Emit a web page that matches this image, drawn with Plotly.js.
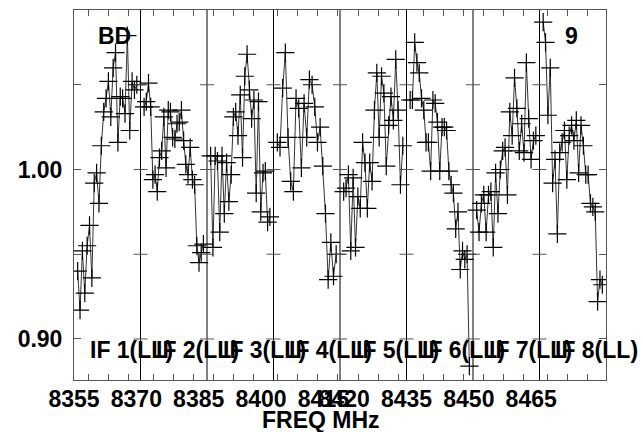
<!DOCTYPE html>
<html>
<head>
<meta charset="utf-8">
<script src="https://cdn.plot.ly/plotly-3.0.1.min.js"></script>
<style>html,body{margin:0;padding:0;background:#fff;}#chart{width:643px;height:432px;}</style>
</head>
<body>
<div id="chart"></div>
<script>
// Amplitude per channel for each IF
const if1 = [0.940, 0.917, 0.952, 0.927, 0.955, 0.967, 0.936, 0.992, 0.998, 0.980, 1.014, 1.034, 1.042, 1.052, 1.031, 1.060, 1.069, 1.016, 1.043, 1.042, 1.033, 1.079, 1.023, 1.052, 1.047, 1.050];
const if2 = [1.037, 1.040, 1.051, 1.037, 0.994, 0.997, 0.987, 1.007, 1.011, 1.031, 1.001, 1.035, 1.034, 1.019, 1.018, 1.027, 1.028, 1.035, 1.017, 1.003, 0.997, 1.013, 0.994, 0.991, 0.955, 0.945, 0.951, 0.956];
const if3 = [1.008, 0.954, 1.008, 1.005, 0.963, 1.008, 0.974, 1.004, 0.981, 0.997, 1.031, 1.034, 1.020, 1.044, 1.007, 1.055, 1.068, 1.047, 1.030, 1.041, 0.986, 1.040, 0.975, 0.998, 0.999, 0.969, 0.972];
const if4 = [1.016, 1.013, 1.048, 1.069, 1.019, 0.993, 0.987, 1.042, 1.036, 1.001, 1.039, 1.019, 1.053, 1.050, 1.037, 1.016, 1.025, 1.002, 0.974, 0.935, 0.957, 0.937, 0.950];
const if5 = [0.987, 0.989, 0.997, 0.952, 0.995, 0.954, 0.984, 0.977, 1.016, 1.004, 0.977, 1.004, 0.993, 1.035, 1.057, 1.019, 1.055, 1.045, 1.002, 1.026, 1.043, 1.029, 1.065, 1.035, 0.991, 1.014];
const if6 = [1.041, 1.041, 1.075, 1.063, 1.057, 1.042, 1.035, 1.016, 1.016, 0.999, 1.041, 1.039, 1.028, 0.999, 1.025, 1.025, 1.023, 0.999, 0.991, 0.986, 0.965, 0.975, 0.941, 0.952, 0.947, 0.950, 0.884];
const if7 = [0.976, 0.963, 0.980, 0.985, 0.963, 0.985, 0.987, 0.954, 0.998, 0.974, 1.000, 1.011, 1.013, 0.985, 1.034, 1.020, 1.054, 1.036, 1.011, 1.027, 1.010, 1.063, 1.030, 1.006, 1.017, 1.020];
const if8 = [1.087, 1.075, 1.032, 1.060, 0.992, 1.006, 0.962, 1.010, 1.016, 1.023, 0.994, 1.020, 1.026, 1.017, 1.029, 0.998, 1.026, 1.014, 0.997, 0.997, 0.980, 0.978, 0.975, 0.922, 0.935, 0.932];

const ifData = [if1, if2, if3, if4, if5, if6, if7, if8];
const ifNames = ["IF 1(LL)", "IF 2(LL)", "IF 3(LL)", "IF 4(LL)", "IF 5(LL)", "IF 6(LL)", "IF 7(LL)", "IF 8(LL)"];

// Frequency frame
const startFreq = 8355;      // MHz
const ifWidth = 16;          // MHz per IF
const tickLabelVals = [8355, 8370, 8385, 8400, 8415, 8420, 8435, 8450, 8465];
const tickLabelText = ["8355", "8370", "8385", "8400", "8415", "8420", "8435", "8450", "8465"];
const minorTickVals = [8358.56, 8363.37, 8368.18, 8374.20, 8378.87, 8383.68, 8388.49, 8393.45, 8398.26,
  8404.03, 8408.85, 8413.66, 8418.47, 8423.52, 8428.33, 8433.15, 8439.16, 8443.97, 8448.79,
  8453.45, 8458.41, 8463.22, 8469.00, 8473.81, 8478.62];
const yTickVals = [0.90, 0.95, 1.00, 1.05];
const yTickText = ["0.90", "", "1.00", ""];

const FONT = "Liberation Sans, Arial, sans-serif";
const FS = 23;
const nIF = ifData.length;
const endFreq = startFreq + nIF * ifWidth;

const traces = ifData.map((vals, k) => {
  const n = vals.length;
  const x = vals.map((_, i) => startFreq + k * ifWidth + 0.6 + (i + 0.5) * (ifWidth - 1.2) / n);
  return {
    type: "scatter", mode: "lines+markers", x: x, y: vals, xaxis: "x", yaxis: "y",
    line: {color: "#333", width: 1},
    marker: {symbol: "cross-thin-open", size: 13, color: "#000", line: {color: "#000", width: 1.2}},
    hoverinfo: "skip", showlegend: false, cliponaxis: true
  };
});
traces.push({type: "scatter", x: [], y: [], xaxis: "x2", yaxis: "y", showlegend: false});

const shapes = [];
for (let k = 1; k < nIF; k++) {
  const xb = startFreq + k * ifWidth;
  shapes.push({type: "line", xref: "x", yref: "paper", x0: xb, x1: xb, y0: 0, y1: 1, line: {color: "#000", width: 1}});
  yTickVals.forEach(v => {
    shapes.push({type: "line", xref: "x", yref: "y", xsizemode: "pixel", xanchor: xb, x0: -7, x1: 7, y0: v, y1: v, line: {color: "#555", width: 1}});
  });
}

const boldFont = {family: FONT, size: FS, color: "#000", weight: "bold"};
const annotations = [
  {text: "BD", xref: "paper", yref: "paper", x: 0.042, y: 0.93, xanchor: "left", yanchor: "middle", showarrow: false, font: boldFont},
  {text: "9", xref: "paper", yref: "paper", x: 0.92, y: 0.93, xanchor: "left", yanchor: "middle", showarrow: false, font: boldFont},
  {text: "FREQ MHz", xref: "paper", yref: "paper", x: (320.5 - 74) / 532, y: -(420 - 380) / 370, xanchor: "center", yanchor: "middle", showarrow: false, font: boldFont}
];
ifNames.forEach((name, k) => {
  annotations.push({text: name, xref: "x", yref: "y", x: startFreq + k * ifWidth + 3.3, y: 0.8935, xanchor: "left", yanchor: "middle", showarrow: false,
    font: boldFont});
});

const layout = {
  width: 643, height: 432,
  margin: {l: 74, r: 37, t: 10, b: 52, pad: 0},
  paper_bgcolor: "#fff", plot_bgcolor: "#fff",
  showlegend: false,
  xaxis: {range: [startFreq, endFreq], tickvals: tickLabelVals, ticktext: tickLabelText, ticks: "", showline: false, showgrid: false, zeroline: false,
    tickangle: 0, automargin: false, tickfont: boldFont, ticklabelstandoff: 3},
  xaxis2: {range: [startFreq, endFreq], overlaying: "x", anchor: "y", side: "bottom", tickvals: minorTickVals, ticks: "inside", ticklen: 6, tickcolor: "#555",
    showticklabels: false, showline: true, linecolor: "#555", linewidth: 1, mirror: "ticks", showgrid: false, zeroline: false},
  yaxis: {range: [0.8758, 1.0941], tickvals: yTickVals, ticktext: yTickText, ticks: "inside", ticklen: 7, tickcolor: "#555", showline: true, linecolor: "#555", linewidth: 1,
    mirror: "ticks", showgrid: false, zeroline: false, automargin: false, tickfont: boldFont, ticklabelstandoff: 6},
  shapes: shapes,
  annotations: annotations
};

Plotly.newPlot("chart", traces, layout, {displayModeBar: false, staticPlot: true});
</script>
</body>
</html>
